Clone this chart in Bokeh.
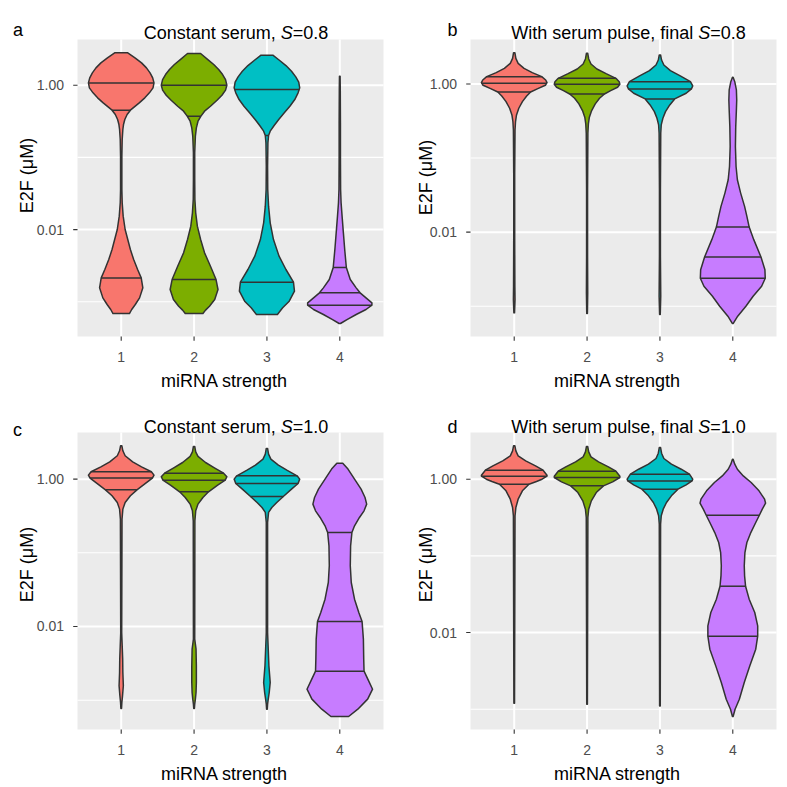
import math
from bokeh.plotting import figure
from bokeh.models import Range1d, Label
from bokeh.layouts import gridplot
from bokeh.embed import file_html
from bokeh.resources import INLINE

# ---------------- data ----------------
categories = ["1", "2", "3", "4"]
fill_colors = ["#F8766D", "#7CAE00", "#00BFC4", "#C77CFF"]
y_ticks = [0.01, 1.0]
y_minor_ticks = [0.001, 0.1]

# Each violin: log10(E2F) along its outline (top -> bottom), relative half-width there,
# and the 75/50/25 % quantile lines (log10 value, relative half-width)

# Panel a: constant serum, S=0.8
a1_logy = [0.448, 0.379, 0.309, 0.240, 0.171, 0.102, 0.032, -0.037, -0.106, -0.175, -0.245, -0.346, -0.406, -0.476, -0.545, -0.614, -0.753, -0.983, -1.214, -1.445, -1.630, -1.814, -1.999, -2.138, -2.276, -2.415, -2.553, -2.669, -2.807, -2.946, -3.038, -3.107, -3.163]
a1_width = [0.20, 0.42, 0.62, 0.77, 0.88, 0.96, 1.00, 0.97, 0.86, 0.72, 0.55, 0.28, 0.18, 0.11, 0.07, 0.05, 0.03, 0.02, 0.02, 0.02, 0.03, 0.06, 0.12, 0.20, 0.28, 0.38, 0.50, 0.61, 0.66, 0.56, 0.43, 0.32, 0.25]
a1_q_logy = [0.032, -0.346, -2.669]
a1_q_width = [1.00, 0.28, 0.61]

a2_logy = [0.439, 0.355, 0.286, 0.217, 0.148, 0.078, 0.000, -0.069, -0.139, -0.208, -0.291, -0.360, -0.429, -0.499, -0.591, -0.706, -0.937, -1.307, -1.584, -1.768, -1.953, -2.138, -2.322, -2.507, -2.692, -2.830, -2.969, -3.061, -3.116, -3.163]
a2_width = [0.20, 0.42, 0.60, 0.75, 0.87, 0.96, 1.00, 0.96, 0.85, 0.70, 0.50, 0.32, 0.21, 0.12, 0.07, 0.04, 0.02, 0.02, 0.025, 0.05, 0.10, 0.20, 0.32, 0.50, 0.67, 0.73, 0.63, 0.47, 0.35, 0.27]
a2_q_logy = [0.000, -0.429, -2.692]
a2_q_width = [1.00, 0.21, 0.67]

a3_logy = [0.416, 0.346, 0.272, 0.194, 0.115, 0.042, -0.037, -0.106, -0.199, -0.291, -0.383, -0.476, -0.559, -0.637, -0.697, -0.799, -1.122, -1.445, -1.676, -1.907, -2.138, -2.368, -2.553, -2.729, -2.853, -2.992, -3.084, -3.176]
a3_width = [0.18, 0.38, 0.58, 0.75, 0.88, 0.97, 1.00, 0.95, 0.85, 0.70, 0.53, 0.36, 0.22, 0.10, 0.05, 0.03, 0.02, 0.025, 0.05, 0.10, 0.20, 0.37, 0.58, 0.81, 0.84, 0.68, 0.48, 0.32]
a3_q_logy = [-0.060, -0.697, -2.729]
a3_q_width = [0.99, 0.05, 0.81]

a4_logy = [0.125, -0.060, -0.522, -0.983, -1.445, -1.630, -1.814, -2.045, -2.276, -2.525, -2.692, -2.807, -2.876, -2.946, -3.015, -3.047, -3.107, -3.176, -3.246, -3.301]
a4_width = [0.01, 0.015, 0.02, 0.02, 0.025, 0.04, 0.07, 0.11, 0.15, 0.20, 0.32, 0.50, 0.62, 0.80, 0.98, 0.98, 0.80, 0.50, 0.22, 0.02]
a4_q_logy = [-2.525, -2.876, -3.047]
a4_q_width = [0.20, 0.62, 0.98]

# Panel b: with serum pulse, final S=0.8
b1_logy = [0.422, 0.346, 0.278, 0.211, 0.153, 0.099, 0.054, 0.018, -0.018, -0.063, -0.108, -0.162, -0.238, -0.328, -0.418, -0.507, -0.620, -1.203, -2.101, -2.730, -2.910, -3.089]
b1_width = [0.02, 0.05, 0.12, 0.30, 0.55, 0.84, 0.96, 1.00, 0.95, 0.72, 0.50, 0.38, 0.25, 0.14, 0.07, 0.04, 0.025, 0.015, 0.015, 0.02, 0.025, 0.01]
b1_q_logy = [0.099, 0.009, -0.108]
b1_q_width = [0.84, 1.00, 0.50]

b2_logy = [0.413, 0.337, 0.269, 0.202, 0.139, 0.076, 0.031, -0.004, -0.045, -0.090, -0.135, -0.193, -0.269, -0.359, -0.449, -0.539, -0.665, -1.428, -2.326, -2.820, -3.098]
b2_width = [0.02, 0.05, 0.12, 0.30, 0.58, 0.88, 0.98, 1.00, 0.93, 0.72, 0.53, 0.38, 0.25, 0.14, 0.07, 0.04, 0.025, 0.015, 0.015, 0.02, 0.01]
b2_q_logy = [0.076, -0.004, -0.135]
b2_q_width = [0.88, 1.00, 0.53]

b3_logy = [0.391, 0.323, 0.256, 0.180, 0.108, 0.031, -0.027, -0.067, -0.126, -0.202, -0.283, -0.373, -0.463, -0.552, -0.665, -1.428, -2.326, -2.865, -3.112]
b3_width = [0.02, 0.05, 0.12, 0.32, 0.62, 0.93, 1.00, 0.96, 0.80, 0.45, 0.30, 0.17, 0.09, 0.04, 0.025, 0.015, 0.015, 0.025, 0.01]
b3_q_logy = [0.031, -0.067, -0.202]
b3_q_width = [0.93, 0.96, 0.45]

b4_logy = [0.090, 0.031, -0.081, -0.216, -0.350, -0.575, -0.844, -1.114, -1.293, -1.473, -1.652, -1.787, -1.931, -2.101, -2.335, -2.506, -2.622, -2.730, -2.865, -3.000, -3.134, -3.233]
b4_width = [0.01, 0.06, 0.11, 0.12, 0.11, 0.09, 0.08, 0.10, 0.14, 0.24, 0.36, 0.43, 0.50, 0.64, 0.86, 0.98, 0.99, 0.88, 0.62, 0.40, 0.15, 0.01]
b4_q_logy = [-1.931, -2.335, -2.622]
b4_q_width = [0.50, 0.86, 0.99]

# Panel c: constant serum, S=1.0
c1_logy = [0.452, 0.385, 0.317, 0.235, 0.167, 0.100, 0.054, 0.014, -0.045, -0.145, -0.226, -0.317, -0.407, -0.543, -2.081, -2.262, -2.443, -2.624, -2.805, -2.941, -3.032, -3.113]
c1_width = [0.02, 0.05, 0.12, 0.35, 0.62, 0.92, 1.00, 0.95, 0.78, 0.48, 0.28, 0.12, 0.05, 0.025, 0.015, 0.03, 0.045, 0.05, 0.065, 0.04, 0.02, 0.01]
c1_q_logy = [0.100, 0.014, -0.145]
c1_q_width = [0.92, 0.95, 0.48]

c2_logy = [0.443, 0.371, 0.308, 0.226, 0.154, 0.081, 0.032, -0.014, -0.081, -0.172, -0.249, -0.339, -0.430, -0.566, -2.172, -2.308, -2.534, -2.760, -2.896, -2.986, -3.054, -3.113]
c2_width = [0.02, 0.05, 0.12, 0.35, 0.62, 0.90, 1.00, 0.95, 0.72, 0.44, 0.27, 0.12, 0.05, 0.025, 0.02, 0.06, 0.07, 0.07, 0.06, 0.04, 0.02, 0.01]
c2_q_logy = [0.081, -0.014, -0.172]
c2_q_width = [0.90, 0.95, 0.44]

c3_logy = [0.416, 0.339, 0.271, 0.190, 0.118, 0.045, 0.000, -0.059, -0.136, -0.235, -0.317, -0.385, -0.452, -0.588, -2.081, -2.308, -2.534, -2.760, -2.896, -2.986, -3.054, -3.122]
c3_width = [0.02, 0.05, 0.12, 0.35, 0.62, 0.92, 1.00, 0.95, 0.75, 0.50, 0.30, 0.15, 0.05, 0.02, 0.02, 0.04, 0.06, 0.10, 0.07, 0.04, 0.02, 0.01]
c3_q_logy = [0.045, -0.059, -0.235]
c3_q_width = [0.92, 0.95, 0.50]

c4_logy = [0.217, 0.136, 0.000, -0.136, -0.249, -0.339, -0.430, -0.520, -0.633, -0.724, -0.905, -1.176, -1.403, -1.629, -1.810, -1.932, -2.172, -2.443, -2.606, -2.738, -2.851, -2.986, -3.122, -3.222]
c4_width = [0.09, 0.25, 0.45, 0.65, 0.77, 0.82, 0.74, 0.60, 0.45, 0.37, 0.33, 0.32, 0.35, 0.45, 0.58, 0.68, 0.72, 0.73, 0.74, 0.88, 1.00, 0.85, 0.55, 0.27]
c4_q_logy = [-0.724, -1.932, -2.606]
c4_q_width = [0.37, 0.68, 0.74]

# Panel d: with serum pulse, final S=1.0
d1_logy = [0.435, 0.370, 0.304, 0.239, 0.174, 0.117, 0.052, 0.039, 0.000, -0.030, -0.065, -0.152, -0.261, -0.370, -0.478, -2.922]
d1_width = [0.02, 0.05, 0.12, 0.35, 0.65, 0.88, 1.00, 1.00, 0.85, 0.68, 0.45, 0.25, 0.12, 0.05, 0.025, 0.01]
d1_q_logy = [0.117, 0.039, -0.065]
d1_q_width = [0.88, 1.00, 0.45]

d2_logy = [0.426, 0.357, 0.291, 0.226, 0.161, 0.104, 0.039, 0.022, -0.035, -0.087, -0.174, -0.283, -0.391, -0.500, -2.935]
d2_width = [0.02, 0.05, 0.12, 0.35, 0.65, 0.88, 1.00, 1.00, 0.78, 0.50, 0.28, 0.13, 0.05, 0.025, 0.01]
d2_q_logy = [0.104, 0.022, -0.087]
d2_q_width = [0.88, 1.00, 0.50]

d3_logy = [0.413, 0.339, 0.270, 0.196, 0.130, 0.065, 0.000, -0.022, -0.074, -0.130, -0.217, -0.304, -0.391, -0.478, -0.587, -2.957]
d3_width = [0.02, 0.05, 0.12, 0.35, 0.65, 0.90, 1.00, 0.98, 0.80, 0.55, 0.35, 0.20, 0.10, 0.04, 0.02, 0.01]
d3_q_logy = [0.065, -0.022, -0.130]
d3_q_width = [0.90, 0.98, 0.55]

d4_logy = [0.261, 0.196, 0.130, 0.043, -0.043, -0.152, -0.261, -0.313, -0.391, -0.470, -0.565, -0.696, -0.826, -0.957, -1.130, -1.261, -1.396, -1.565, -1.739, -1.913, -2.048, -2.217, -2.435, -2.652, -2.870, -3.000, -3.096]
d4_width = [0.01, 0.06, 0.14, 0.32, 0.56, 0.80, 0.97, 1.00, 0.90, 0.81, 0.70, 0.55, 0.43, 0.37, 0.35, 0.36, 0.39, 0.50, 0.67, 0.76, 0.76, 0.70, 0.52, 0.35, 0.20, 0.07, 0.01]
d4_q_logy = [-0.470, -1.396, -2.048]
d4_q_width = [0.81, 0.39, 0.76]

# ---------------- layout / style ----------------
FONT = "Liberation Sans"
FIG = 393                         # each panel is 393 x 393 px
PL, PR, PT, PB = 77, 383, 39, 336  # grey panel box inside a figure (px from top-left)
X0, X1 = 0.4, 4.6                  # discrete x scale limits
BIG = "18px"
BIG_PX = 18.0
SMALL = "14px"
HALF = 0.45
EDGE = "#333333"
TICK_LEN = 4.3
LW = 1.5

ARIAL = {' ': 278, ',': 278, '.': 278, '=': 584, '0': 556, '1': 556, '8': 556,
         'C': 722, 'S': 667, 'W': 944, 'a': 556, 'e': 556, 'f': 278, 'h': 556,
         'i': 222, 'l': 222, 'm': 833, 'n': 556, 'o': 556, 'p': 556, 'r': 333,
         's': 500, 't': 278, 'u': 556}


def text_w(t, size):
    return sum(ARIAL.get(ch, 556) for ch in t) * size / 1000.0


panels = [
    dict(letter="a", prefix="Constant serum, ", suffix="=0.8", ylog=(-3.481, 0.633),
         letter_pos=(12.5, 29), title_pos=(235.5, 32.5), ylab_pos=(26, 175),
         violins=[(a1_logy, a1_width, a1_q_logy, a1_q_width), (a2_logy, a2_width, a2_q_logy, a2_q_width),
                  (a3_logy, a3_width, a3_q_logy, a3_q_width), (a4_logy, a4_width, a4_q_logy, a4_q_width)]),
    dict(letter="b", prefix="With serum pulse, final ", suffix="=0.8", ylog=(-3.408, 0.600),
         letter_pos=(54, 29.5), title_pos=(235, 32.5), ylab_pos=(32, 177),
         violins=[(b1_logy, b1_width, b1_q_logy, b1_q_width), (b2_logy, b2_width, b2_q_logy, b2_q_width),
                  (b3_logy, b3_width, b3_q_logy, b3_q_width), (b4_logy, b4_width, b4_q_logy, b4_q_width)]),
    dict(letter="c", prefix="Constant serum, ", suffix="=1.0", ylog=(-3.398, 0.633),
         letter_pos=(12.5, 36), title_pos=(235.5, 33.3), ylab_pos=(26, 171),
         violins=[(c1_logy, c1_width, c1_q_logy, c1_q_width), (c2_logy, c2_width, c2_q_logy, c2_q_width),
                  (c3_logy, c3_width, c3_q_logy, c3_q_width), (c4_logy, c4_width, c4_q_logy, c4_q_width)]),
    dict(letter="d", prefix="With serum pulse, final ", suffix="=1.0", ylog=(-3.265, 0.609),
         letter_pos=(54, 33), title_pos=(235, 33), ylab_pos=(32, 171),
         violins=[(d1_logy, d1_width, d1_q_logy, d1_q_width), (d2_logy, d2_width, d2_q_logy, d2_q_width),
                  (d3_logy, d3_width, d3_q_logy, d3_q_width), (d4_logy, d4_width, d4_q_logy, d4_q_width)]),
]


def add_label(p, x, y, text, **kw):
    opts = dict(x_units="screen", y_units="screen", text_font=FONT, text_font_size=BIG,
                text_color="black", text_baseline="alphabetic", text_align="left")
    opts.update(kw)
    p.add_layout(Label(x=x, y=y, text=text, **opts))


def make_panel(spec):
    lo, hi = spec["ylog"]
    kx = (PR - PL) / (X1 - X0)          # px per category unit
    ky = (PB - PT) / (hi - lo)          # px per decade
    xr = Range1d(X0 - PL / kx, X1 + (FIG - PR) / kx)
    yr = Range1d(10 ** (lo - (FIG - PB) / ky), 10 ** (hi + PT / ky))

    p = figure(width=FIG, height=FIG, title=None, x_range=xr, y_range=yr,
               y_axis_type="log", x_axis_location=None, y_axis_location=None,
               output_backend="svg", toolbar_location=None,
               min_border=0, background_fill_color="white",
               border_fill_color="white", outline_line_color=None)
    p.grid.visible = False

    ylo, yhi = 10 ** lo, 10 ** hi
    # grey panel
    p.quad(left=[X0], right=[X1], bottom=[ylo], top=[yhi], fill_color="#EBEBEB", line_color=None)
    # grid lines
    xt = [i + 1 for i in range(len(categories))]
    p.segment(x0=[X0] * len(y_minor_ticks), x1=[X1] * len(y_minor_ticks),
              y0=y_minor_ticks, y1=y_minor_ticks, line_color="white", line_width=1.1)
    p.segment(x0=[X0] * len(y_ticks), x1=[X1] * len(y_ticks), y0=y_ticks, y1=y_ticks,
              line_color="white", line_width=2.0)
    p.segment(x0=xt, x1=xt, y0=[ylo] * len(xt), y1=[yhi] * len(xt),
              line_color="white", line_width=2.0)
    # ticks
    p.segment(x0=[X0 - TICK_LEN / kx] * len(y_ticks), x1=[X0] * len(y_ticks), y0=y_ticks, y1=y_ticks,
              line_color=EDGE, line_width=1.1)
    ybelow = 10 ** (lo - TICK_LEN / ky)
    p.segment(x0=xt, x1=xt, y0=[ybelow] * len(xt), y1=[ylo] * len(xt),
              line_color=EDGE, line_width=1.1)
    # tick labels
    for v in y_ticks:
        add_label(p, 63.5, v, f"{v:.2f}", y_units="data", text_align="right",
                  text_baseline="middle", text_font_size=SMALL, text_color="#4D4D4D")
    for xv, c in zip(xt, categories):
        add_label(p, xv, FIG - 356.7, c, x_units="data", text_align="center",
                  text_font_size=SMALL, text_color="#4D4D4D")

    # violins
    for k, (logy, wid, qlogy, qwid) in enumerate(spec["violins"]):
        xc = k + 1
        ys = [10 ** v for v in logy]
        xrgt = [xc + HALF * w for w in wid]
        xlft = [xc - HALF * w for w in wid]
        p.patch(xrgt + xlft[::-1], ys + ys[::-1], fill_color=fill_colors[k],
                line_color=EDGE, line_width=LW, line_join="round")
        qy = [10 ** v for v in qlogy]
        p.segment(x0=[xc - HALF * w for w in qwid], x1=[xc + HALF * w for w in qwid],
                  y0=qy, y1=qy, line_color=EDGE, line_width=LW)

    # panel letter
    lx, ly = spec["letter_pos"]
    add_label(p, lx, FIG - ly, spec["letter"])

    # title with italic S
    tcx, tby = spec["title_pos"]
    w1 = text_w(spec["prefix"], BIG_PX)
    w2 = text_w("S", BIG_PX)
    w3 = text_w(spec["suffix"], BIG_PX)
    x0 = tcx - (w1 + w2 + w3) / 2.0
    add_label(p, x0, FIG - tby, spec["prefix"].rstrip())
    add_label(p, x0 + w1, FIG - tby, "S", text_font_style="italic")
    add_label(p, x0 + w1 + w2, FIG - tby, spec["suffix"])

    # axis titles
    yx, yy = spec["ylab_pos"]
    add_label(p, yx, FIG - yy, "E2F (\u03bcM)", angle=math.pi / 2,
              text_align="center", text_baseline="middle")
    add_label(p, 224, FIG - 380, "miRNA strength", text_align="center")
    return p


figs = [make_panel(s) for s in panels]
grid = gridplot([[figs[0], figs[1]], [figs[2], figs[3]]], toolbar_location=None)

open("out.html", "w").write(file_html(grid, INLINE))
